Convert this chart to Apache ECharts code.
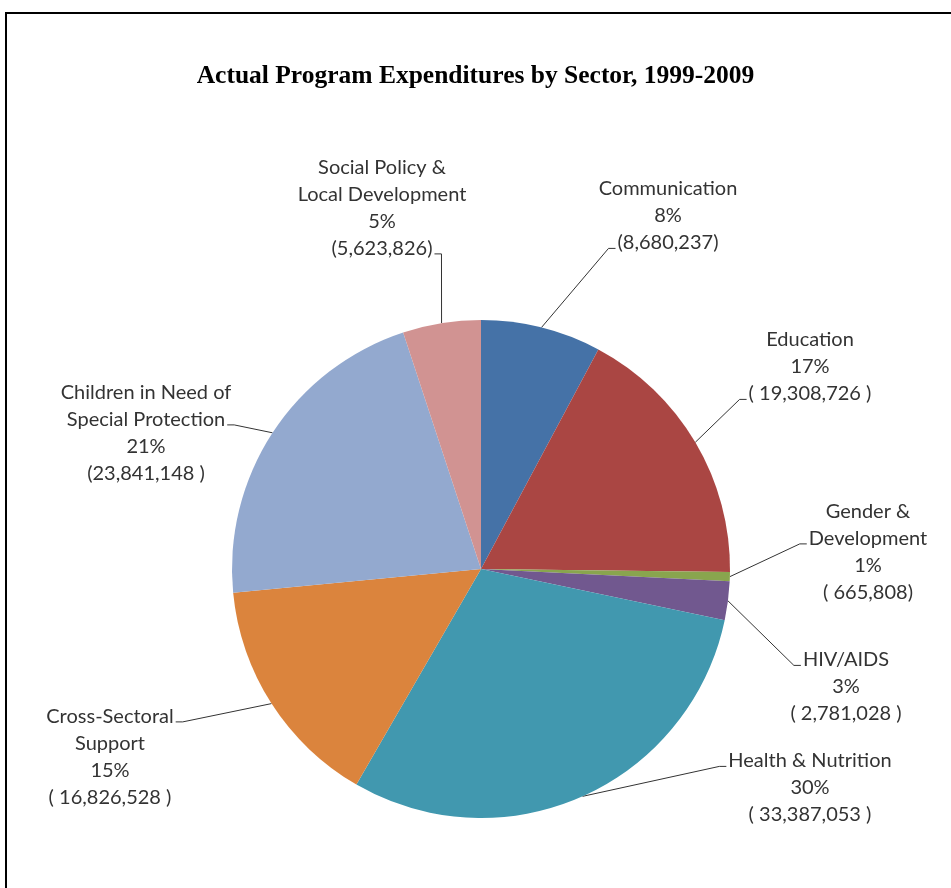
<!DOCTYPE html>
<html>
<head>
<meta charset="utf-8">
<title>Actual Program Expenditures by Sector, 1999-2009</title>
<script src="https://cdn.jsdelivr.net/npm/echarts@6/dist/echarts.min.js"></script>
<style>
  html, body { margin: 0; padding: 0; background: #fff; }
  #chart { width: 951px; height: 888px; }
</style>
</head>
<body>
<div id="chart"></div>
<script>
  // data (clockwise from 12 o'clock)
  var sectors = [
    'Communication',
    'Education',
    'Gender &\nDevelopment',
    'HIV/AIDS',
    'Health & Nutrition',
    'Cross-Sectoral\nSupport',
    'Children in Need of\nSpecial Protection',
    'Social Policy &\nLocal Development'
  ];
  var expenditures = [8680237, 19308726, 665808, 2781028, 33387053, 16826528, 23841148, 5623826];
  // how the amount is padded inside its brackets in the original labels
  var bracketPad = [['', ''], [' ', ' '], [' ', ''], [' ', ' '], [' ', ' '], [' ', ' '], ['', ' '], ['', '']];

  var colors = ['#4572A7', '#AA4643', '#89A54E', '#71588F', '#4198AF', '#DB843D', '#93A9CF', '#D19392'];

  // label block centres and the text row the leader line meets (layout only)
  var labelPos = [
    [668, 216], [810, 367], [868, 552], [846, 687],
    [810, 788], [110, 757], [146, 433], [382, 208]
  ];
  var anchorRow = [2, 2, 1, 0, 0, 0, 1, 3];

  var LINE_H = 27;
  var LABEL_FONT = '20px Lato';
  var PIE_CX = 481;

  var _data = [];
  for (var i = 0; i < sectors.length; i++) {
    _data.push({ name: sectors[i], value: expenditures[i] });
  }

  function labelText(idx) {
    var pad = bracketPad[idx];
    var total = 0;
    for (var k = 0; k < expenditures.length; k++) total += expenditures[k];
    return sectors[idx] + '\n' + Math.round(expenditures[idx] / total * 100) + '%\n(' +
      pad[0] + expenditures[idx].toLocaleString('en-US') + pad[1] + ')';
  }

  var ctx = document.createElement('canvas').getContext('2d');
  ctx.font = LABEL_FONT;
  function rowWidth(idx, row) {
    return ctx.measureText(labelText(idx).split('\n')[row]).width;
  }

  var option = {
    animation: false,
    color: colors,
    title: {
      text: 'Actual Program Expenditures by Sector, 1999-2009',
      left: 'center',
      top: 58,
      textStyle: {
        fontFamily: 'Liberation Serif',
        fontWeight: 'bold',
        fontSize: 25.5,
        color: '#000'
      }
    },
    graphic: [{
      type: 'rect',
      z: -1,
      shape: { x: 6, y: 13, width: 1000, height: 1000 },
      style: { fill: 'none', stroke: '#000', lineWidth: 2 }
    }],
    series: [{
      type: 'pie',
      radius: 249,
      center: [PIE_CX, 569],
      startAngle: 90,
      clockwise: true,
      avoidLabelOverlap: false,
      emphasis: { disabled: true },
      itemStyle: { borderWidth: 0 },
      label: {
        show: true,
        position: 'outside',
        fontFamily: 'Lato',
        fontSize: 20,
        lineHeight: LINE_H,
        color: '#333',
        formatter: function(p) {
          return labelText(p.dataIndex);
        }
      },
      labelLine: {
        show: true,
        length: 20,
        length2: 8,
        smooth: false,
        lineStyle: { color: '#333', width: 1 }
      },
      labelLayout: function(params) {
        var idx = params.dataIndex;
        var p = labelPos[idx];
        var h = params.labelRect.height;
        var rw = rowWidth(idx, anchorRow[idx]);
        var onLeft = p[0] < PIE_CX;
        // meet the chosen text row on the side facing the pie
        var ex = onLeft ? p[0] + rw / 2 + 2 : p[0] - rw / 2 - 2;
        var ey = p[1] - h / 2 + LINE_H * (anchorRow[idx] + 0.7);
        var mx = onLeft ? ex + 7 : ex - 7;
        var start = params.labelLinePoints[0];
        return {
          x: p[0],
          y: p[1],
          align: 'center',
          verticalAlign: 'middle',
          labelLinePoints: [[start[0], start[1]], [mx, ey], [ex, ey]]
        };
      },
      data: _data
    }]
  };

  var chart = echarts.init(document.getElementById('chart'));
  chart.setOption(option);
</script>
</body>
</html>
